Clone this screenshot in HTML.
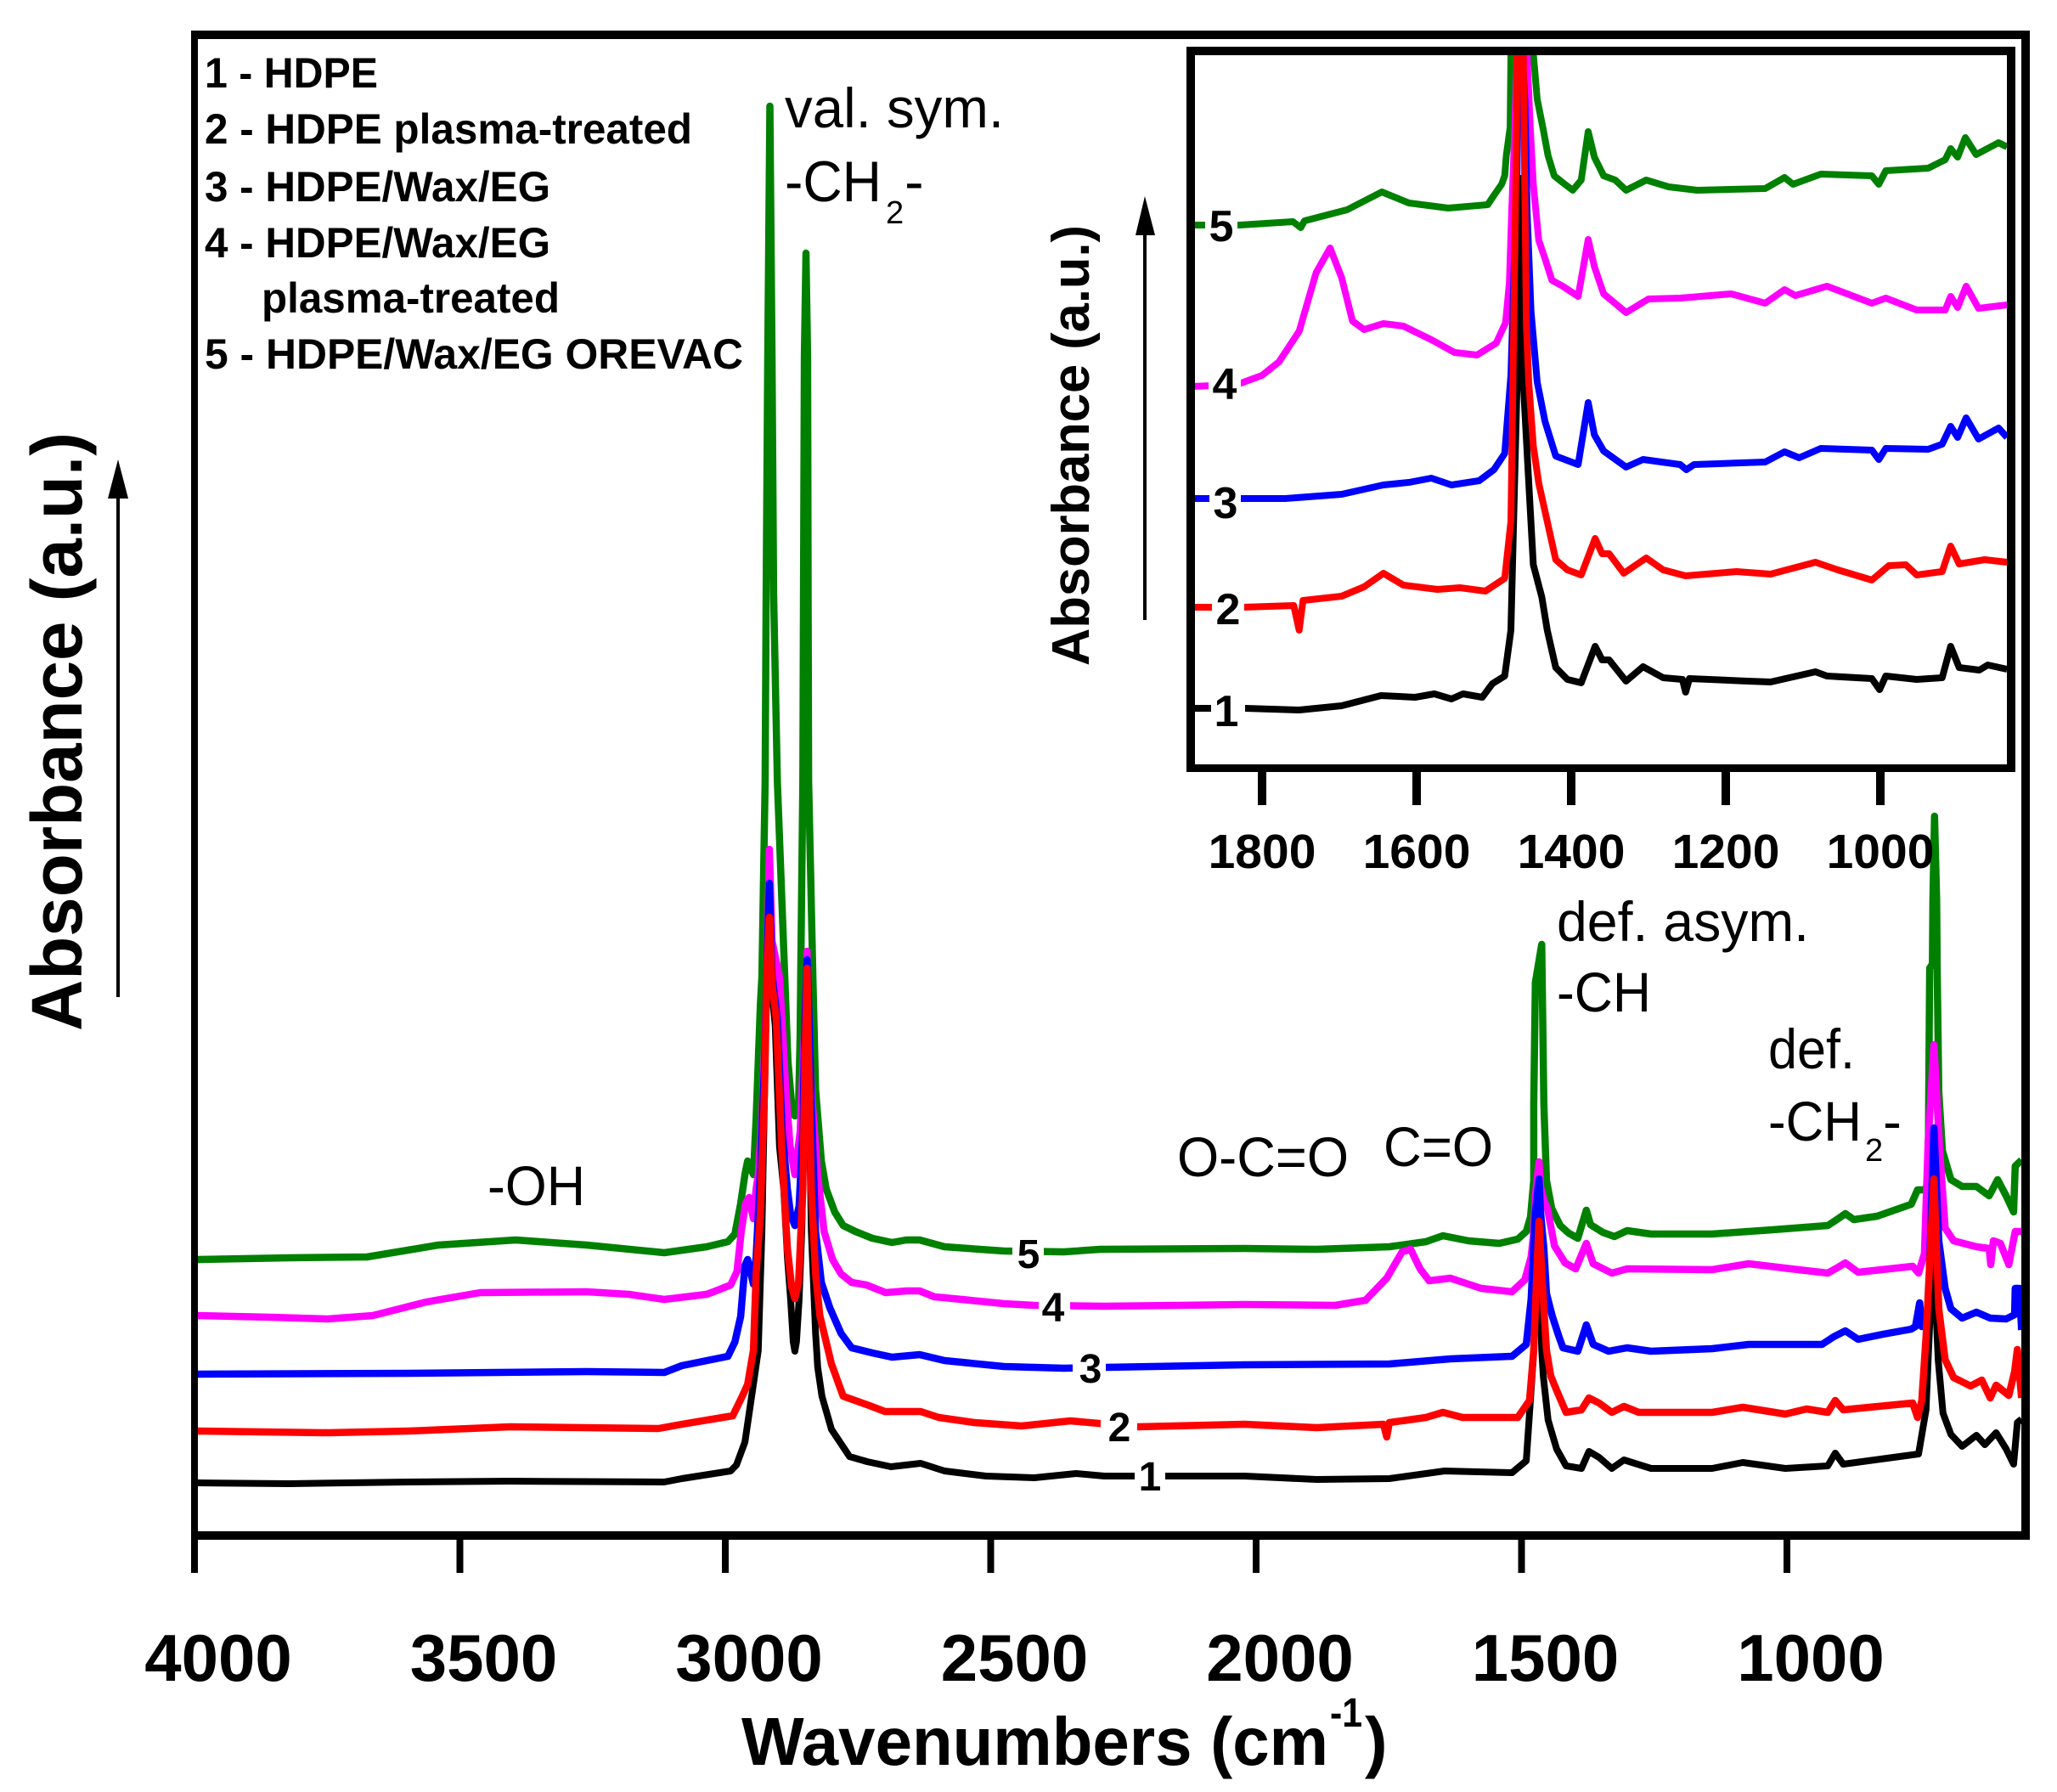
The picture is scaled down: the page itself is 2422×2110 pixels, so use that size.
<!DOCTYPE html>
<html lang="en">
<head>
<meta charset="utf-8">
<title>FTIR absorbance spectra</title>
<style>
html,body{margin:0;padding:0;background:#fff;}
svg{display:block;}
text{font-family:"Liberation Sans",Arial,sans-serif;fill:#000;}
.b{font-weight:bold;}
</style>
</head>
<body>
<svg id="chart" width="2422" height="2110" viewBox="0 0 2422 2110">
  <defs>
    <clipPath id="main-clip"><rect x="229" y="40" width="2155" height="1768"/></clipPath>
    <clipPath id="inset-clip"><rect x="1402" y="60" width="963" height="845"/></clipPath>
  </defs>
  <rect x="0" y="0" width="2422" height="2110" fill="#fff"/>
  <g id="main-series" clip-path="url(#main-clip)"></g>
  <g id="inset-series" clip-path="url(#inset-clip)"></g>

  <g>
    <rect x="1336" y="1718" width="36" height="40" fill="#fff"/>
    <rect x="1296" y="1660" width="43" height="40" fill="#fff"/>
    <rect x="1263" y="1592" width="39" height="38" fill="#fff"/>
    <rect x="1223" y="1520" width="37" height="38" fill="#fff"/>
    <rect x="1192" y="1458" width="37" height="38" fill="#fff"/>
    <text class="b" x="1354" y="1755" font-size="48" text-anchor="middle">1</text>
    <text class="b" x="1318" y="1697" font-size="48" text-anchor="middle">2</text>
    <text class="b" x="1284" y="1628" font-size="48" text-anchor="middle">3</text>
    <text class="b" x="1240" y="1556" font-size="48" text-anchor="middle">4</text>
    <text class="b" x="1211" y="1493" font-size="48" text-anchor="middle">5</text>
  </g>

  <g>
    <rect x="1419" y="245" width="38" height="42" fill="#fff"/>
    <rect x="1423" y="432" width="38" height="42" fill="#fff"/>
    <rect x="1424" y="572" width="37" height="42" fill="#fff"/>
    <rect x="1427" y="696" width="38" height="42" fill="#fff"/>
    <rect x="1426" y="816" width="40" height="42" fill="#fff"/>
    <text class="b" x="1438" y="284" font-size="52" text-anchor="middle">5</text>
    <text class="b" x="1442" y="470" font-size="52" text-anchor="middle">4</text>
    <text class="b" x="1443" y="610" font-size="52" text-anchor="middle">3</text>
    <text class="b" x="1446" y="735" font-size="52" text-anchor="middle">2</text>
    <text class="b" x="1444" y="855" font-size="52" text-anchor="middle">1</text>
  </g>

  <g fill="#000">
    <rect x="225" y="36" width="2165" height="10"/>
    <rect x="225" y="36" width="8" height="1777"/>
    <rect x="2380" y="36" width="10" height="1777"/>
    <rect x="225" y="1803" width="2165" height="10"/>
  </g>
  <g fill="#000">
    <rect x="1397" y="55" width="976" height="10"/>
    <rect x="1397" y="55" width="10" height="854"/>
    <rect x="2363" y="55" width="10" height="854"/>
    <rect x="1397" y="900" width="976" height="9"/>
  </g>
  <g id="main-axis"></g>
  <g id="inset-axis"></g>

  <g class="b" font-size="50">
    <text class="b" x="241" y="103" font-size="50" textLength="204" lengthAdjust="spacingAndGlyphs">1 - HDPE</text>
    <text class="b" x="241" y="169" font-size="50" textLength="574" lengthAdjust="spacingAndGlyphs">2 - HDPE plasma-treated</text>
    <text class="b" x="241" y="237" font-size="50" textLength="407" lengthAdjust="spacingAndGlyphs">3 - HDPE/Wax/EG</text>
    <text class="b" x="241" y="303" font-size="50" textLength="407" lengthAdjust="spacingAndGlyphs">4 - HDPE/Wax/EG</text>
    <text class="b" x="308" y="368" font-size="50" textLength="351" lengthAdjust="spacingAndGlyphs">plasma-treated</text>
    <text class="b" x="241" y="434" font-size="50" textLength="634" lengthAdjust="spacingAndGlyphs">5 - HDPE/Wax/EG OREVAC</text>
  </g>

  <g>
    <text x="924" y="150" font-size="66" textLength="258" lengthAdjust="spacingAndGlyphs">val. sym.</text>
    <text x="924" y="237" font-size="68" textLength="114" lengthAdjust="spacingAndGlyphs">-CH</text>
    <text x="1043" y="263" font-size="38">2</text>
    <text x="1065" y="237" font-size="68">-</text>
    <text x="574" y="1419" font-size="66" textLength="115" lengthAdjust="spacingAndGlyphs">-OH</text>
    <text x="1386" y="1385" font-size="66" textLength="202" lengthAdjust="spacingAndGlyphs">O-C=O</text>
    <text x="1629" y="1373" font-size="66" textLength="129" lengthAdjust="spacingAndGlyphs">C=O</text>
    <text x="1833" y="1108" font-size="66" textLength="297" lengthAdjust="spacingAndGlyphs">def. asym.</text>
    <text x="1833" y="1191" font-size="66" textLength="111" lengthAdjust="spacingAndGlyphs">-CH</text>
    <text x="2082" y="1258" font-size="66" textLength="102" lengthAdjust="spacingAndGlyphs">def.</text>
    <text x="2082" y="1343" font-size="66" textLength="110" lengthAdjust="spacingAndGlyphs">-CH</text>
    <text x="2196" y="1367" font-size="38">2</text>
    <text x="2217" y="1343" font-size="66">-</text>
  </g>

  <g>
    <text class="b" x="873" y="2078" font-size="80" textLength="691" lengthAdjust="spacingAndGlyphs">Wavenumbers (cm</text>
    <text class="b" x="1566" y="2033" font-size="48" textLength="38" lengthAdjust="spacingAndGlyphs">-1</text>
    <text class="b" x="1607" y="2078" font-size="80">)</text>
    <text class="b" transform="translate(96,1214) rotate(-90)" x="0" y="0" font-size="84" textLength="705" lengthAdjust="spacingAndGlyphs">Absorbance (a.u.)</text>
    <rect x="137" y="585" width="4" height="589" fill="#000"/>
    <polygon points="139,541 151,587 127,587" fill="#000"/>
  </g>
  <g>
    <text class="b" transform="translate(1282,784) rotate(-90)" x="0" y="0" font-size="62" textLength="519" lengthAdjust="spacingAndGlyphs">Absorbance (a.u.)</text>
    <rect x="1346" y="275" width="4" height="455" fill="#000"/>
    <polygon points="1348,231 1360,277 1337,277" fill="#000"/>
  </g>
</svg>

<script>
// ---------- main spectrum data: wavenumber (cm-1) and absorbance (milli a.u., offset stacked) ----------
const mainTickValues = [4000, 3500, 3000, 2500, 2000, 1500, 1000];
const mainTickLabels = ['4000', '3500', '3000', '2500', '2000', '1500', '1000'];

const mainGreenWn = [3994,3822,3675,3541,3395,3261,3115,3035,2995,2982,2971,2963,2958,2947,2942,2934,2931,2925,2923,2920,2916,2912,2909,2902,2888,2882,2875,2869,2862,2859,2858,2854,2851,2848,2845,2844,2843,2835,2830,2819,2810,2794,2778,2755,2723,2686,2659,2634,2587,2475,2362,2294,2022,1886,1749,1680,1648,1600,1542,1507,1491,1483,1477,1477,1474,1462,1461,1458,1453,1443,1427,1411,1394,1378,1370,1347,1325,1301,1256,1141,1027,923,906,890,874,830,766,754,739,734,733,731,726,725,722,718,717,714,707,691,670,643,619,603,587,573,570,558];
const mainGreenAbs = [325,327,328,342,348,342,333,340,346,355,391,425,441,425,491,625,658,888,1108,1388,1683,1388,1108,888,658,558,508,494,508,588,658,888,1388,1510,1388,1108,888,658,525,441,408,381,365,358,350,345,348,348,340,335,334,337,338,337,340,346,353,347,344,349,358,375,418,508,651,696,651,508,418,385,365,356,350,383,366,357,352,359,355,355,360,365,372,379,372,376,390,407,407,418,508,668,673,748,847,748,668,523,453,419,411,411,400,419,400,381,435,442];

const mainMagentaWn = [3994,3856,3749,3664,3563,3462,3261,3182,3115,3035,3018,2990,2978,2970,2962,2955,2947,2942,2938,2931,2923,2917,2912,2898,2886,2878,2869,2859,2851,2848,2846,2845,2838,2830,2826,2814,2798,2782,2762,2734,2698,2659,2634,2606,2587,2475,2418,2286,2022,1851,1794,1754,1725,1709,1691,1674,1634,1576,1518,1494,1482,1478,1474,1467,1464,1458,1451,1438,1418,1398,1378,1365,1330,1301,1141,1072,992,923,906,890,866,763,752,741,734,723,712,702,686,643,619,616,611,598,582,570,558];
const mainMagentaAbs = [259,257,255,259,275,286,287,284,278,284,288,295,311,358,391,398,373,408,425,491,625,808,700,658,525,458,425,475,591,640,688,625,525,458,425,358,325,308,298,295,286,288,288,281,280,273,271,270,272,271,277,303,334,337,314,300,303,291,287,301,328,351,400,440,410,395,385,341,321,314,344,320,309,314,313,320,314,309,315,321,310,317,309,332,464,578,452,362,347,340,338,319,347,344,319,358,358];

const mainBlueWn = [3994,3597,3261,3115,3082,2995,2982,2971,2963,2958,2947,2942,2934,2926,2922,2917,2912,2902,2893,2883,2877,2869,2861,2854,2850,2846,2843,2838,2830,2819,2803,2782,2762,2723,2686,2634,2587,2475,2362,2283,2022,1749,1634,1518,1491,1482,1478,1474,1467,1464,1458,1453,1442,1430,1422,1394,1378,1365,1336,1301,1256,1141,1072,934,912,890,866,819,766,758,750,746,734,731,723,714,702,691,670,643,617,587,571,570,562,558];
const mainBlueAbs = [190,191,193,192,200,211,228,258,318,325,296,328,428,558,658,768,660,608,478,408,378,365,388,478,608,678,628,508,358,298,268,238,221,215,210,213,206,199,197,198,201,202,208,211,225,278,328,380,420,380,338,285,258,235,221,217,248,225,217,221,217,220,225,225,234,241,231,237,243,246,274,246,253,323,480,347,291,267,256,263,256,255,260,291,291,242];

const mainRedWn = [3994,3749,3597,3406,3126,3082,2986,2968,2958,2947,2942,2934,2926,2922,2917,2912,2904,2894,2883,2875,2869,2862,2854,2850,2846,2843,2838,2830,2822,2800,2778,2733,2699,2632,2598,2531,2442,2350,2224,2022,1886,1760,1754,1749,1680,1648,1611,1507,1485,1477,1470,1467,1462,1458,1453,1445,1434,1416,1387,1373,1354,1330,1307,1279,1141,1083,1003,963,923,909,894,763,754,746,738,723,714,702,686,654,633,617,606,582,571,566,558];
const mainRedAbs = [123,121,123,128,126,131,141,164,178,218,308,378,528,658,728,650,608,458,338,293,279,298,408,558,668,558,408,308,259,202,164,154,146,146,139,133,129,135,128,131,127,131,116,133,139,145,139,139,159,218,330,370,310,268,218,188,171,145,148,162,156,145,152,145,145,151,143,149,145,159,148,156,139,159,234,420,267,207,186,176,183,162,177,165,193,219,162];

const mainBlackWn = [3994,3822,3598,3406,3115,3082,2990,2979,2963,2946,2938,2931,2925,2922,2917,2912,2906,2898,2890,2883,2877,2872,2869,2866,2861,2856,2850,2846,2843,2838,2830,2826,2818,2800,2766,2733,2688,2632,2587,2509,2418,2339,2286,2022,1886,1749,1645,1518,1491,1478,1472,1467,1462,1459,1450,1434,1416,1387,1373,1354,1330,1307,1256,1141,1083,1003,923,909,894,752,738,734,729,723,715,706,691,670,643,627,606,587,573,566,558];
const mainBlackAbs = [62,61,63,64,63,67,76,83,110,183,218,358,558,658,698,640,600,458,408,328,278,228,217,228,278,358,528,650,558,358,238,198,164,125,93,87,81,85,76,70,68,73,70,70,66,67,76,74,88,208,288,335,218,188,136,102,82,79,99,92,79,89,79,79,86,79,82,97,84,96,148,208,278,320,207,144,119,105,118,107,121,102,84,133,137];

// ---------- inset spectrum data ----------
const insetTickValues = [1800, 1600, 1400, 1200, 1000];
const insetTickLabels = ['1800', '1600', '1400', '1200', '1000'];

const insetGreenWn = [1891,1829,1760,1750,1745,1690,1645,1610,1559,1508,1500,1490,1486,1484,1479,1478,1467,1449,1444,1436,1430,1422,1411,1398,1387,1378,1370,1358,1343,1329,1303,1274,1237,1149,1124,1113,1077,1011,1002,993,938,916,909,900,890,876,847,836];
const insetGreenAbs = [645,645,649,642,650,663,684,671,665,669,680,693,703,727,760,847,1100,847,793,757,727,703,695,686,698,755,725,703,698,686,698,690,686,688,701,693,705,703,693,709,712,722,735,725,748,728,742,737];

const insetMagentaWn = [1891,1833,1800,1778,1752,1730,1712,1697,1683,1668,1643,1617,1581,1551,1522,1497,1485,1480,1477,1473,1470,1463,1457,1453,1449,1442,1433,1425,1411,1391,1378,1370,1358,1329,1300,1259,1193,1149,1124,1110,1069,1011,993,953,916,909,900,889,873,836];
const insetMagentaAbs = [455,457,468,484,520,589,618,583,532,522,529,526,510,495,492,506,530,577,660,760,845,1100,845,760,693,627,603,580,573,561,628,596,564,542,558,559,564,553,569,562,573,553,559,545,545,561,548,573,547,551];

const insetBlueWn = [1891,1770,1697,1643,1610,1581,1555,1519,1500,1486,1478,1470,1466,1463,1460,1457,1452,1444,1434,1420,1391,1378,1370,1358,1329,1307,1259,1251,1241,1149,1124,1105,1077,1011,1002,993,938,920,909,900,889,873,847,836];
const insetBlueAbs = [323,323,328,339,342,347,339,344,357,376,468,710,1100,838,793,660,543,460,414,373,363,436,398,379,360,369,363,357,363,366,378,371,382,380,369,382,381,387,408,395,418,393,406,395];

const insetBlackWn = [1891,1822,1752,1697,1646,1602,1577,1555,1540,1515,1502,1486,1478,1470,1468,1466,1463,1462,1456,1449,1438,1431,1420,1405,1387,1369,1360,1351,1329,1307,1281,1256,1252,1247,1172,1142,1084,1069,1011,1001,993,953,920,909,898,872,861,836];
const insetBlackAbs = [76,76,74,79,91,89,93,87,93,89,105,114,168,460,610,700,575,460,360,245,207,168,124,110,106,149,133,133,108,125,112,110,95,111,108,107,119,114,111,98,114,110,112,149,124,121,127,122];

const insetRedWn = [1891,1825,1759,1752,1747,1697,1668,1643,1617,1573,1544,1511,1486,1478,1475,1471,1470,1464,1462,1458,1455,1449,1442,1431,1420,1405,1387,1369,1360,1351,1332,1303,1281,1252,1186,1142,1084,1055,1011,989,967,953,920,909,898,865,836];
const insetRedAbs = [195,195,197,168,203,208,219,235,221,216,218,214,229,296,487,742,844,1050,844,527,460,385,341,296,251,239,233,276,258,258,235,253,239,232,237,234,248,239,227,244,245,233,237,267,246,251,248];

// ---------- axis functions ----------
function xMain(w) { return 229 + (4000 - w) * 0.625; }
function yMain(a) { return 1808 - a; }
function xInset(w) { return 1486 + (1800 - w) * 0.91; }
function yInset(a) { return 910 - a; }

const SVGNS = 'http://www.w3.org/2000/svg';

function drawSeries(parentId, wn, abs, xf, yf, color, width, name) {
  const pts = [];
  for (let i = 0; i < wn.length; i++) {
    pts.push(xf(wn[i]).toFixed(1) + ',' + yf(abs[i]).toFixed(1));
  }
  const el = document.createElementNS(SVGNS, 'polyline');
  el.setAttribute('points', pts.join(' '));
  el.setAttribute('fill', 'none');
  el.setAttribute('stroke', color);
  el.setAttribute('stroke-width', width);
  el.setAttribute('stroke-linejoin', 'round');
  el.setAttribute('stroke-linecap', 'butt');
  
  
  document.getElementById(parentId).appendChild(el);
}

function drawAxis(parentId, values, labels, xf, tickTop, tickBottom, tickWidth, labelDx, labelY, fontSize, prefix) {
  const parent = document.getElementById(parentId);
  for (let i = 0; i < values.length; i++) {
    const x = xf(values[i]);
    const tick = document.createElementNS(SVGNS, 'rect');
    tick.setAttribute('x', x - tickWidth / 2);
    tick.setAttribute('y', tickTop);
    tick.setAttribute('width', tickWidth);
    tick.setAttribute('height', tickBottom - tickTop);
    tick.setAttribute('fill', '#000');
    
    
    parent.appendChild(tick);
    const label = document.createElementNS(SVGNS, 'text');
    label.setAttribute('x', x + labelDx);
    label.setAttribute('y', labelY);
    label.setAttribute('font-size', fontSize);
    label.setAttribute('font-weight', 'bold');
    label.setAttribute('text-anchor', 'middle');
    
    
    label.textContent = labels[i];
    parent.appendChild(label);
  }
}

// Draw order: green at the back, red/black in front
drawSeries('main-series', mainGreenWn, mainGreenAbs, xMain, yMain, '#008000', 8.5, 'series-5-hdpe-wax-eg-orevac');
drawSeries('main-series', mainMagentaWn, mainMagentaAbs, xMain, yMain, '#ff00ff', 8.5, 'series-4-hdpe-wax-eg-plasma');
drawSeries('main-series', mainBlueWn, mainBlueAbs, xMain, yMain, '#0000ff', 8.5, 'series-3-hdpe-wax-eg');
drawSeries('main-series', mainBlackWn, mainBlackAbs, xMain, yMain, '#000000', 8, 'series-1-hdpe');
drawSeries('main-series', mainRedWn, mainRedAbs, xMain, yMain, '#ff0000', 8.5, 'series-2-hdpe-plasma');

drawSeries('inset-series', insetGreenWn, insetGreenAbs, xInset, yInset, '#008000', 8, 'inset-series-5');
drawSeries('inset-series', insetMagentaWn, insetMagentaAbs, xInset, yInset, '#ff00ff', 8, 'inset-series-4');
drawSeries('inset-series', insetBlueWn, insetBlueAbs, xInset, yInset, '#0000ff', 8, 'inset-series-3');
drawSeries('inset-series', insetBlackWn, insetBlackAbs, xInset, yInset, '#000000', 8, 'inset-series-1');
drawSeries('inset-series', insetRedWn, insetRedAbs, xInset, yInset, '#ff0000', 8, 'inset-series-2');

drawAxis('main-axis', mainTickValues, mainTickLabels, xMain, 1813, 1852, 8, 28, 1979, 78, 'x-axis');
drawAxis('inset-axis', insetTickValues, insetTickLabels, xInset, 909, 948, 10, 0, 1022, 57, 'inset-x-axis');
</script>
</body>
</html>
